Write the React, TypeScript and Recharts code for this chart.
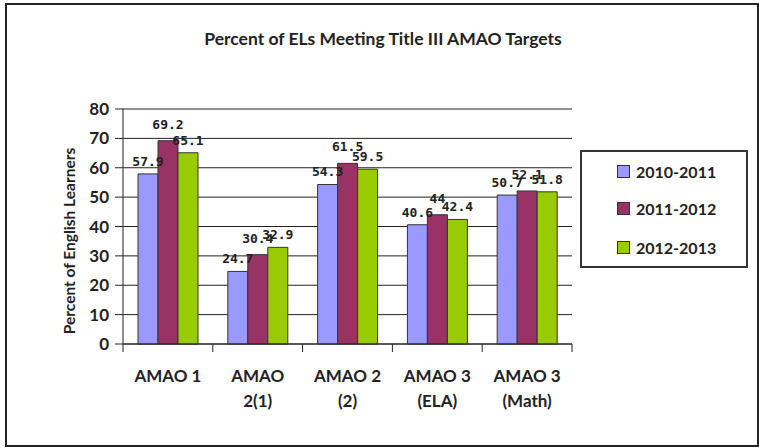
import { BarChart, Bar, XAxis, YAxis, CartesianGrid, LabelList } from "recharts";

const categories = ["AMAO 1", "AMAO\n2(1)", "AMAO 2\n(2)", "AMAO 3\n(ELA)", "AMAO 3\n(Math)"];
const seriesNames = ["2010-2011", "2011-2012", "2012-2013"];
const seriesColors = ["#9999ff", "#993366", "#99cc00"];
const values2010 = [57.9, 24.7, 54.3, 40.6, 50.7];
const values2011 = [69.2, 30.4, 61.5, 44, 52.1];
const values2012 = [65.1, 32.9, 59.5, 42.4, 51.8];
const yTicks = [0, 10, 20, 30, 40, 50, 60, 70, 80];

const data = categories.map((name, i) => ({
  name,
  s0: values2010[i],
  s1: values2011[i],
  s2: values2012[i],
}));

const ink = "#222";
const font = "Lato, 'Open Sans', sans-serif";
// label distance above each series' bars, as in the source chart
const labelOffsets = [8, 12, 8];

function CategoryTick(props: any) {
  const { x, y, payload, index } = props;
  const half = payload && payload.offset ? payload.offset : 44.9;
  const lines = String(payload.value).split("\n");
  return (
    <g>
      <line x1={x - half} y1={y} x2={x - half} y2={y + 8} stroke={ink} />
      {index === categories.length - 1 && (
        <line x1={x + half} y1={y} x2={x + half} y2={y + 8} stroke={ink} />
      )}
      <text
        x={x}
        y={y + 38}
        textAnchor="middle"
        fill={ink}
        fontFamily={font}
        fontWeight="bold"
        fontSize={17}
      >
        {lines.map((l, i) => (
          <tspan key={i} x={x} dy={i === 0 ? 0 : 25}>
            {l}
          </tspan>
        ))}
      </text>
    </g>
  );
}

const legendRows = [172, 209, 248];

export default function App() {
  return (
    <div style={{ position: "absolute", left: 0, top: 0, width: 759, height: 448, background: "#fff" }}>
      <BarChart
        width={759}
        height={448}
        data={data}
        margin={{ top: 109, right: 187, bottom: 4, left: 60 }}
        barCategoryGap={15}
        barGap={0}
      >
        <CartesianGrid vertical={false} stroke={ink} strokeDasharray="" />
        <XAxis
          dataKey="name"
          interval={0}
          height={100}
          tickSize={0}
          tickMargin={0}
          tickLine={false}
          axisLine={{ stroke: ink }}
          tick={<CategoryTick />}
        />
        <YAxis
          width={63}
          domain={[0, 80]}
          ticks={yTicks}
          interval={0}
          tickSize={8}
          tickMargin={6}
          axisLine={{ stroke: ink }}
          tickLine={{ stroke: ink }}
          tick={{ fill: ink, fontFamily: font, fontWeight: "bold", fontSize: 17 }}
        />
        {seriesNames.map((s, k) => (
          <Bar
            key={s}
            dataKey={`s${k}`}
            name={s}
            fill={seriesColors[k]}
            stroke="#333"
            strokeWidth={1}
            isAnimationActive={false}
          >
            <LabelList
              dataKey={`s${k}`}
              position="top"
              offset={labelOffsets[k]}
              fill={ink}
              fontFamily="'DejaVu Sans Mono', monospace"
              fontWeight="bold"
              fontSize={13}
            />
          </Bar>
        ))}
      </BarChart>
      <svg
        width={759}
        height={448}
        style={{ position: "absolute", left: 0, top: 0, pointerEvents: "none" }}
      >
        <rect x={6} y={4} width={752} height={442} fill="none" stroke={ink} strokeWidth={2} />
        <text x={383} y={45} textAnchor="middle" fill={ink} fontFamily={font} fontWeight="bold" fontSize={17.5}>
          Percent of ELs Meeting Title III AMAO Targets
        </text>
        <g transform="translate(75 241) rotate(-90)">
          <text x={0} y={0} textAnchor="middle" fill={ink} fontFamily={font} fontWeight="bold" fontSize={15.5}>
            Percent of English Learners
          </text>
        </g>
        <rect x={581} y={151} width={166} height={116} fill="#fff" stroke="#333" strokeWidth={2} />
        {seriesNames.map((s, k) => (
          <g key={s}>
            <rect
              x={617.5}
              y={legendRows[k] - 6.5}
              width={12}
              height={12}
              fill={seriesColors[k]}
              stroke="#333"
            />
            <text x={636} y={legendRows[k] + 6} fill={ink} fontFamily={font} fontWeight="bold" fontSize={16}>
              {s}
            </text>
          </g>
        ))}
      </svg>
    </div>
  );
}
